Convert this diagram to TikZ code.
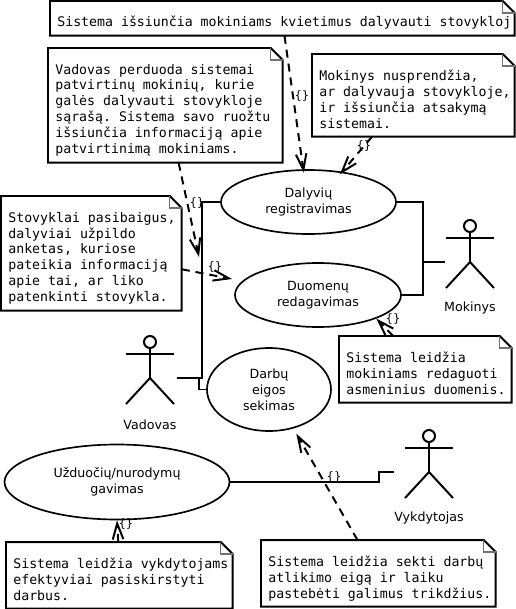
\documentclass[tikz,border=0pt]{standalone}
\usepackage{fontspec}
\setmainfont{DejaVu Sans}
\setmonofont{DejaVu Sans Mono}
\usetikzlibrary{arrows.meta,shapes.geometric}
\tikzset{
    usecase/.style={draw,ellipse,line width=.95pt,fill=white,inner sep=0pt,align=center,font=\fontsize{7.2}{9.07}\selectfont},
    notebox/.style={rectangle,inner sep=0pt},
    notetext/.style={anchor=north west,inner sep=0pt,align=left,font=\ttfamily\fontsize{7.53}{9.07}\selectfont,execute at begin node={\rule{0pt}{7pt}}},
    noteframe/.style={line width=1.13pt,line join=miter},
    notefold/.style={line width=.7pt,color=black!55},
    solidline/.style={line width=1.13pt},
    dashedline/.style={line width=1.13pt,dash pattern=on 4.6pt off 3.4pt,-{Straight Barb[length=9pt,width=6pt]}},
    actorlabel/.style={font=\fontsize{7.2}{9.07}\selectfont},
    tagged/.style={font=\fontsize{6.6}{8}\selectfont,inner sep=0pt}
}
\newcommand{\notebox}[7][15.6]{
    \node[notebox,minimum width=#5*0.02cm,minimum height=#6*0.02cm,anchor=north west] (#2) at (#3,#4) {};
    \path (#2.north east) ++(-12,0) coordinate (#2fa) ++(0,12) coordinate (#2fb) ++(12,0) coordinate (#2fc);
    \draw[noteframe] (#2.north west) -- (#2fa) -- (#2fc) -- (#2.south east) -- (#2.south west) -- cycle;
    \draw[notefold] (#2fa) -- (#2fb) -- (#2fc);
    \node[notetext] (#2text) at (#3+7,#4+#1) {#7};
}
\newcommand{\stickman}[4]{
    \node[circle,draw,line width=1.13pt,minimum size=12*0.02cm,inner sep=0pt,outer sep=0pt] (#1) at (#2,#3) {};
    \draw[solidline] (#1.south) -- (#2,#3+36) coordinate (#1waist) -- ++(-24,26);
    \draw[solidline] (#1waist) -- ++(24,26);
    \draw[solidline] (#2-24,#3+12) -- ++(48,0);
    \node[actorlabel] (#1label) at (#2,#3+82.5) {#4};
}
\begin{document}
\begin{tikzpicture}[x=0.02cm,y=-0.02cm]
    \useasboundingbox (0,0) rectangle (515,609);

    \node[usecase,minimum width=175*0.02cm,minimum height=64*0.02cm] (registravimas) at (308.5,202) {Dalyvių\\registravimas};
    \node[usecase,minimum width=166*0.02cm,minimum height=64*0.02cm] (redagavimas) at (318,295) {Duomenų\\redagavimas};
    \node[usecase,minimum width=124*0.02cm,minimum height=83*0.02cm] (sekimas) at (269,389.5) {Darbų\\eigos\\sekimas};
    \node[usecase,minimum width=225*0.02cm,minimum height=75*0.02cm] (gavimas) at (117,482) {Užduočių/nurodymų\\gavimas};

    \stickman{mokinys}{470}{226}{Mokinys}
    \stickman{vadovas}{150}{342}{Vadovas}
    \stickman{vykdytojas}{429}{436}{Vykdytojas}

    \notebox[13.1]{kvietimai}{50}{1}{464}{34}{Sistema išsiunčia mokiniams kvietimus dalyvauti stovykloj}
    \notebox{patvirtinimas}{48}{48}{234}{114}{Vadovas perduoda sistemai\\patvirtinų mokinių, kurie\\galės dalyvauti stovykloje\\sąrašą. Sistema savo ruožtu\\išsiunčia informaciją apie\\patvirtinimą mokiniams.}
    \notebox{atsakymas}{312}{54}{202}{82}{Mokinys nusprendžia,\\ar dalyvauja stovykloje,\\ir išsiunčia atsakymą\\sistemai.}
    \notebox{anketos}{1}{196}{180}{114}{Stovyklai pasibaigus,\\dalyviai užpildo\\anketas, kuriose\\pateikia informaciją\\apie tai, ar liko\\patenkinti stovykla.}
    \notebox{duomenys}{339}{336}{172}{66}{Sistema leidžia\\mokiniams redaguoti\\asmeninius duomenis.}
    \notebox{darbai}{6}{542}{226}{66}{Sistema leidžia vykdytojams\\efektyviai pasiskirstyti\\darbus.}
    \notebox{trikdziai}{261}{540}{234}{66}{Sistema leidžia sekti darbų\\atlikimo eigą ir laiku\\pastebėti galimus trikdžius.}

    \coordinate (mokinysjoin) at (423,262);
    \coordinate (mokinyshand) at (445,262);
    \coordinate (vadovashand) at (177,378);
    \coordinate (vadovasjoin) at (202,378);
    \coordinate (vadovasfork) at (199,378);
    \coordinate (vykdytojashand) at (394,472);
    \coordinate (patvirtinimasend) at (199,257);
    \coordinate (anketosend) at (232,279);

    \draw[solidline] (registravimas.east) -| (mokinysjoin) |- (redagavimas.east);
    \draw[solidline] (mokinysjoin) -- (mokinyshand);
    \draw[solidline] (vadovashand) -- (vadovasjoin) |- (registravimas.west);
    \draw[solidline] (vadovasfork) |- (sekimas.west);
    \draw[solidline] (gavimas.east) -- ++(149,0) |- (vykdytojashand);

    \draw[dashedline,shorten >=-2pt] (kvietimai.-83.3) -- (registravimas.99.8);
    \draw[dashedline] (patvirtinimas.-77.2) -- (patvirtinimasend);
    \draw[dashedline,shorten >=-2pt] (atsakymas.-135) -- (registravimas.42);
    \draw[dashedline] (anketos.-10.1) -- (anketosend);
    \draw[dashedline] (duomenys.134) -- (redagavimas.-22.6);
    \draw[dashedline] (darbai.92) -- (gavimas.-90);
    \draw[dashedline,shorten >=3.4pt] (trikdziai.122.5) -- (sekimas.-58.8);

    \node[tagged] (tagkvietimai) at (302,96) {\{\}};
    \node[tagged] (tagatsakymas) at (364,146) {\{\}};
    \node[tagged] (tagpatvirtinimas) at (197,203) {\{\}};
    \node[tagged] (taganketos) at (215,267) {\{\}};
    \node[tagged] (tagduomenys) at (393,319) {\{\}};
    \node[tagged] (tagdarbai) at (126,524) {\{\}};
    \node[tagged] (tagtrikdziai) at (334,477) {\{\}};
\end{tikzpicture}
\end{document}
